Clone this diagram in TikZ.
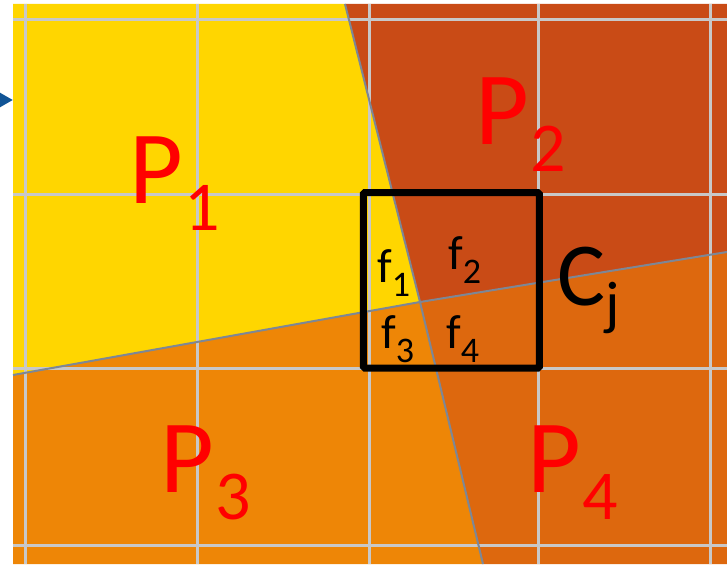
\documentclass[tikz,border=0pt]{standalone}
\usepackage{fontspec}
\setmainfont{Carlito}
\usetikzlibrary{positioning}

\definecolor{regionA}{RGB}{255,214,0}
\definecolor{regionB}{RGB}{201,75,22}
\definecolor{regionC}{RGB}{238,134,6}
\definecolor{regionD}{RGB}{221,104,14}
\definecolor{gridgray}{RGB}{200,200,200}
\definecolor{bordergray}{RGB}{125,135,150}
\definecolor{arrowblue}{RGB}{16,84,150}

\newcommand{\bigsub}[1]{\raisebox{-27pt}{\fontsize{70}{70}\selectfont\kern2pt #1}}
\newcommand{\smallsub}[1]{\raisebox{-14pt}{\fontsize{36}{36}\selectfont #1}}

\begin{document}
\begin{tikzpicture}[
	x=1pt, y=-1pt,
	gridline/.style={draw=gridgray, line width=3pt},
	border/.style={draw=bordergray, line width=2pt},
	cellbox/.style={
		rectangle, draw=black, line width=7pt, rounded corners=1.5pt,
		minimum width=176pt, minimum height=175.5pt, inner sep=0pt
	},
	plabel/.style={
		anchor=base west, inner sep=0pt, text=red,
		font=\fontsize{104}{104}\selectfont
	},
	clabel/.style={
		anchor=base west, inner sep=0pt, text=black,
		font=\fontsize{90}{90}\selectfont
	},
	flabel/.style={
		anchor=base west, inner sep=0pt, text=black,
		font=\fontsize{48}{48}\selectfont
	}
	]
	\useasboundingbox (0,0) rectangle (727,564);
	
	% meeting points of the regions
	\coordinate (mid) at (420,302);
	\coordinate (top) at (345,4);
	\coordinate (bot) at (483,564);
	\coordinate (lft) at (13,375);
	\coordinate (rgt) at (727,252);
	
	% regions
	\fill[regionA] (13,4) -- (top) -- (mid) -- (lft) -- cycle;
	\fill[regionB] (top) -- (727,4) -- (rgt) -- (mid) -- cycle;
	\fill[regionC] (lft) -- (mid) -- (bot) -- (13,564) -- cycle;
	\fill[regionD] (mid) -- (rgt) -- (727,564) -- (bot) -- cycle;
	
	% grid
	\foreach \x in {25.5,197,369,538.5,710.5}
		\draw[gridline] (\x,4) -- (\x,564);
	\foreach \y in {19.5,194,368.5,545.5}
		\draw[gridline] (13,\y) -- (727,\y);
	
	% borders
	\draw[border] (top) -- (mid) -- (bot);
	\draw[border] (lft) -- (mid) -- (rgt);
	
	% cell
	\node[cellbox] (cell) at (451.3,280.3) {};
	
	% region labels
	\node[plabel] (p1) at (129,203) {P\bigsub{1}};
	\node[plabel] (p2) at (475,145) {P\bigsub{2}};
	\node[plabel] (p3) at (160,492) {P\bigsub{3}};
	\node[plabel] (p4) at (527,492) {P\bigsub{4}};
	
	% cell label
	\node[clabel] (cj) at (557,305) {C\raisebox{-18pt}{\fontsize{60}{60}\selectfont j}};
	
	% fragment labels
	\node[flabel] (f1) at (377,282) {f\smallsub{1}};
	\node[flabel] (f2) at (448,269) {f\smallsub{2}};
	\node[flabel] (f3) at (381,348) {f\smallsub{3}};
	\node[flabel] (f4) at (446,348) {f\smallsub{4}};
	
	% arrow tip
	\fill[arrowblue] (0,92.7) -- (12.7,100) -- (0,107.3) -- cycle;
\end{tikzpicture}
\end{document}
